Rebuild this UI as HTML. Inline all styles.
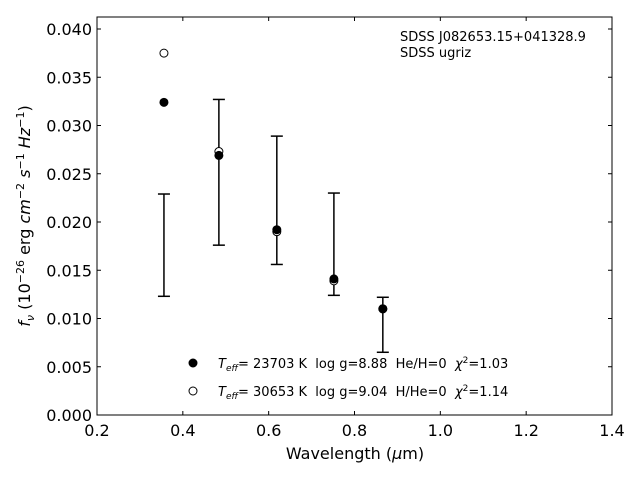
<!DOCTYPE html>
<html><head><meta charset="utf-8"><style>
body{margin:0;background:#fff;font-family:"DejaVu Sans","Liberation Sans",sans-serif;}
text{font-family:"DejaVu Sans","Liberation Sans",sans-serif;white-space:pre;}
</style></head><body>
<svg id="chart" width="640" height="480" xmlns="http://www.w3.org/2000/svg"></svg>
<script>
const wavelengths=[0.356,0.484,0.619,0.752,0.866];
const filledFlux=[0.0324,0.0269,0.0192,0.0141,0.0110];
const openFlux=[0.0375,0.0273,0.0190,0.0139,0.0110];
const obsLow=[0.0123,0.0176,0.0156,0.0124,0.0065];
const obsHigh=[0.0229,0.0327,0.0289,0.0230,0.0122];
const xTicks=[0.2,0.4,0.6,0.8,1.0,1.2,1.4];
const yTicks=[0,0.005,0.010,0.015,0.020,0.025,0.030,0.035,0.040];
const L=97,R=612,T=17,B=415;
function xs(v){return L+(v-0.2)/1.2*(R-L);}
function ys(v){return 415-v/0.040*386;}
const svg=document.getElementById('chart');
const NS='http://www.w3.org/2000/svg';
function mk(tag,attrs,parent){const e=document.createElementNS(NS,tag);for(const k in attrs)e.setAttribute(k,attrs[k]);(parent||svg).appendChild(e);return e;}
let frame=mk('rect',{x:L,y:T,width:R-L,height:B-T,fill:'none',stroke:'#000','stroke-width':1});


xTicks.forEach(t=>{const x=xs(t);
 mk('line',{x1:x,x2:x,y1:B,y2:B-4,stroke:'#000'});mk('line',{x1:x,x2:x,y1:T,y2:T+4,stroke:'#000'});
 const tx=mk('text',{x:x,y:B+21,'text-anchor':'middle','font-size':16});tx.textContent=t.toFixed(1);
 
 });
yTicks.forEach(t=>{const y=ys(t);
 mk('line',{x1:L,x2:L+4,y1:y,y2:y,stroke:'#000'});mk('line',{x1:R,x2:R-4,y1:y,y2:y,stroke:'#000'});
 const tx=mk('text',{x:L-5,y:y+6,'text-anchor':'end','font-size':16});tx.textContent=t.toFixed(3);
 
 });
wavelengths.forEach((w,i)=>{const x=xs(w);
 const g=mk('g',{stroke:'#000','stroke-width':1.5});
 
 
 mk('line',{x1:x,x2:x,y1:ys(obsLow[i]),y2:ys(obsHigh[i])},g);
 mk('line',{x1:x-6,x2:x+6,y1:ys(obsLow[i]),y2:ys(obsLow[i])},g);
 mk('line',{x1:x-6,x2:x+6,y1:ys(obsHigh[i]),y2:ys(obsHigh[i])},g);});
wavelengths.forEach((w,i)=>{
 const o=mk('circle',{cx:xs(w),cy:ys(openFlux[i]),r:4,fill:'#fff',stroke:'#000'});
 
 
 const f=mk('circle',{cx:xs(w),cy:ys(filledFlux[i]),r:4,fill:'#000',stroke:'#000'});
 
 });
</script>
<svg width="640" height="480" style="position:absolute;left:0;top:0" xmlns="http://www.w3.org/2000/svg">
<g><text x="355" y="459" text-anchor="middle" font-size="16">Wavelength (<tspan font-style="italic">μ</tspan>m)</text></g>
<g><text transform="translate(30,216) rotate(-90)" text-anchor="middle" font-size="16"><tspan font-style="italic">f</tspan><tspan font-size="11" dy="4" font-style="italic">ν</tspan><tspan dy="-4"> (10</tspan><tspan font-size="11" dy="-6">−26</tspan><tspan dy="6"> erg </tspan><tspan font-style="italic">cm</tspan><tspan font-size="11" dy="-6">−2</tspan><tspan dy="6"> </tspan><tspan font-style="italic">s</tspan><tspan font-size="11" dy="-6">−1</tspan><tspan dy="6"> </tspan><tspan font-style="italic">Hz</tspan><tspan font-size="11" dy="-6">−1</tspan><tspan dy="6">)</tspan></text></g>
<text x="400" y="41" font-size="13">SDSS J082653.15+041328.9</text>
<text x="400" y="57" font-size="13">SDSS ugriz</text>
<g font-size="13">
<circle cx="193" cy="363" r="4" fill="#000" stroke="#000"/>
<text x="218" y="368"><tspan font-style="italic">T</tspan><tspan font-size="9" dy="3" font-style="italic">eff</tspan><tspan dy="-3">= 23703 K  log g=8.88  He/H=0  </tspan><tspan font-style="italic">χ</tspan><tspan font-size="9" dy="-5">2</tspan><tspan dy="5">=1.03</tspan></text>
<circle cx="193" cy="391" r="4" fill="#fff" stroke="#000"/>
<text x="218" y="396"><tspan font-style="italic">T</tspan><tspan font-size="9" dy="3" font-style="italic">eff</tspan><tspan dy="-3">= 30653 K  log g=9.04  H/He=0  </tspan><tspan font-style="italic">χ</tspan><tspan font-size="9" dy="-5">2</tspan><tspan dy="5">=1.14</tspan></text>
</g>
</svg>
</body></html>
